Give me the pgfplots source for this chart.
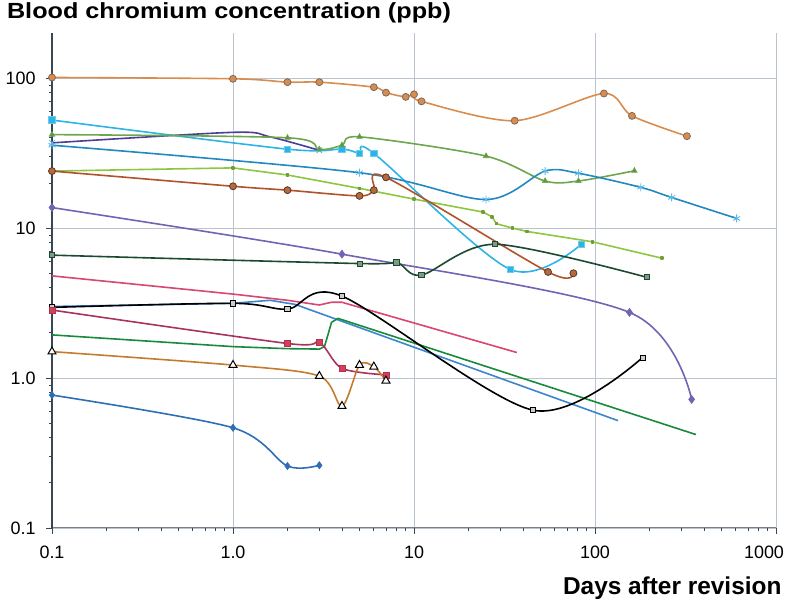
\documentclass[border=0pt]{standalone}
\usepackage{fontspec}
\setmainfont{Liberation Sans}
\usepackage{pgfplots}
\pgfplotsset{compat=1.18}

\definecolor{gridc}{HTML}{B9C4CF}
\definecolor{axisc}{HTML}{3B4654}
\definecolor{cOrange}{HTML}{D98C4C}
\definecolor{cOrEdge}{HTML}{7A6A60}
\definecolor{cCyan}{HTML}{2DB4E6}
\definecolor{cOlive}{HTML}{6DA64C}
\definecolor{cIndigo}{HTML}{4B3E97}
\definecolor{cTeal}{HTML}{2189C0}
\definecolor{cTealMk}{HTML}{5BB8E8}
\definecolor{cLime}{HTML}{8DC641}
\definecolor{cRust}{HTML}{B0532A}
\definecolor{cRustMk}{HTML}{B8693A}
\definecolor{cRustEdge}{HTML}{55382A}
\definecolor{cSlate}{HTML}{7263B3}
\definecolor{cDkGreen}{HTML}{1C4A30}
\definecolor{cDkGreenMk}{HTML}{7E9A88}
\definecolor{cPink}{HTML}{D9466F}
\definecolor{cBlue}{HTML}{3C86CE}
\definecolor{cGreen}{HTML}{178A3C}
\definecolor{cMagenta}{HTML}{A8335E}
\definecolor{cMagentaMk}{HTML}{D8404F}
\definecolor{cOchre}{HTML}{C67A2E}
\definecolor{cBlueD}{HTML}{2F6EB5}

\pgfplotsset{
  ser/.style={line width=1.6bp, smooth, tension=0.5},
  lin/.style={line width=1.6bp, line join=round},
}

\begin{document}
\begin{tikzpicture}[x=1bp,y=1bp]
\path[use as bounding box] (0,0) rectangle (787,602);
\begin{axis}[
  at={(52bp,74bp)}, anchor=south west,
  width=724bp, height=495bp, scale only axis,
  xmode=log, ymode=log,
  xmin=0.1, xmax=1000, ymin=0.1, ymax=200,
  axis x line*=bottom, axis y line*=left,
  xtick={0.1,1,10,100,1000},
  xticklabels={0.1,1.0,10,100,\hspace*{-24bp}1000},
  ytick={0.1,1,10,100},
  yticklabels={0.1,1.0,10,100},
  minor xtick={}, minor ytick={},
  grid=major,
  major grid style={color=gridc, line width=0.8bp},
  tick align=outside, major tick length=6bp,
  tick style={color=axisc, line width=0.8bp},
  x axis line style={color=axisc!70, line width=1bp},
  y axis line style={color=axisc, line width=1.3bp},
  ticklabel style={font=\fontsize{18}{20}\selectfont},
  xticklabel style={yshift=-8bp},
  yticklabel style={xshift=-7bp},
  /pgf/number format/assume math mode=true,
  clip=false,
]

% top orange series
\addplot[cOrange, ser, mark=*, mark size=3.5bp,
  mark options={solid, fill=cOrange, draw=cOrEdge, line width=0.8bp}]
  coordinates {(0.1,101)(1,99)(2,94)(3,94)(6,87)(7,80)(9,75)(10,78)(11,70)(36,52)(112,79)(160,56)(322,41)};

% cyan squares
\addplot[cCyan, ser, mark=square*, mark size=3.2bp,
  mark options={solid, fill=cCyan, draw=cCyan!70!white, line width=0.8bp}]
  coordinates {(0.1,52.5)(2,33.6)(4,33.6)(5,31.5)(6,31.5)(34,5.3)(84,7.8)};

% indigo, ends at 3 days
\addplot[cIndigo, ser, mark=x, mark size=4bp,
  mark options={solid, draw=cTealMk, line width=0.8bp}, mark indices={1,4}]
  coordinates {(0.1,37)(1,43.5)(1.6,40.6)(3,33)};

% olive triangles
\addplot[cOlive, ser, mark=triangle*, mark size=3.2bp,
  mark options={solid, fill=cOlive!90!black, draw=cOlive, line width=0.6bp}]
  coordinates {(0.1,42)(2,40)(3,33.5)(4,35.7)(5,40.6)(25,30.2)(53,20.6)(81,20.6)(165,24.1)};

% teal asterisks
\addplot[cTeal, ser, mark=asterisk, mark size=4bp,
  mark options={solid, draw=cTealMk, line width=0.8bp}]
  coordinates {(0.1,35.7)(5,23.4)(25,15.5)(53,24)(81,23.2)(179,18.7)(265,16)(606,11.6)};

% light green
\addplot[cLime, lin, mark=square*, mark size=1bp,
  mark options={solid, fill=cLime!80!black, draw=cLime!80!black}]
  coordinates {(0.1,24)(1,25.2)(2,22.6)(5,18.4)(10,15.6)(24,12.8)(27,11.9)(28.5,10.7)(35,10)(42,9.5)(97,8.1)(234,6.3)};

% rust circles
\addplot[cRust, ser, mark=*, mark size=3.5bp,
  mark options={solid, fill=cRustMk, draw=cRustEdge, line width=0.8bp}]
  coordinates {(0.1,24)(1,19)(2,17.9)(5,16.4)(6,17.9)(7,21.8)(55,5.1)(76,5.0)};

% slate diamonds
\addplot[cSlate, ser, mark=diamond*, mark size=4bp,
  mark options={solid, fill=cSlate, draw=cSlate, line width=0.6bp}]
  coordinates {(0.1,13.7)(4,6.7)(155,2.74)(342,0.72)};

% dark green squares
\addplot[cDkGreen, ser, mark=square*, mark size=2.6bp,
  mark options={solid, fill=cDkGreenMk, draw=cDkGreen, line width=0.8bp}]
  coordinates {(0.1,6.6)(5,5.8)(8,5.9)(11,4.86)(28,7.8)(193,4.7)};

% pink
\addplot[cPink, lin]
  coordinates {(0.1,4.8)(1,3.63)(2,3.3)(3,3.07)(3.5,3.2)(4,3.2)(37,1.48)};

% blue line
\addplot[cBlue, lin]
  coordinates {(0.1,3.0)(1,3.15)(1.6,3.3)(2.2,3.1)(134,0.52)};

% green line
\addplot[cGreen, lin]
  coordinates {(0.1,1.94)(1,1.62)(2,1.57)(3,1.56)(3.2,1.62)(3.35,1.95)(3.5,2.35)(3.8,2.5)(361,0.42)};

% black squares
\addplot[black, ser, mark=square*, mark size=2.6bp,
  mark options={solid, fill=gray!40, draw=black, line width=0.8bp}]
  coordinates {(0.1,2.96)(1,3.15)(2,2.88)(4,3.52)(45.6,0.61)(183,1.37)};

% magenta squares
\addplot[cMagenta, ser, mark=square*, mark size=3bp,
  mark options={solid, fill=cMagentaMk, draw=cMagenta, line width=0.6bp}]
  coordinates {(0.1,2.84)(2,1.7)(3,1.72)(4,1.16)(7,1.05)};

% ochre triangles
\addplot[cOchre, ser, mark=triangle*, mark size=4.6bp,
  mark options={solid, fill=white, draw=black, line width=1bp}]
  coordinates {(0.1,1.5)(1,1.22)(3,1.03)(4,0.65)(5,1.22)(6,1.19)(7,0.96)};

% blue diamonds
\addplot[cBlueD, ser, mark=diamond*, mark size=3.6bp,
  mark options={solid, fill=cBlueD, draw=cBlueD, line width=0.6bp}]
  coordinates {(0.1,0.77)(1,0.466)(2,0.259)(3,0.262)};

\end{axis}
\node[anchor=base west, xscale=1.15, font=\bfseries\fontsize{22}{24}\selectfont]
  at (3,583) {Blood chromium concentration (ppb)};
\node[anchor=base east, font=\bfseries\fontsize{24.5}{26}\selectfont]
  at (785,7) {Days after revision};
\end{tikzpicture}
\end{document}
